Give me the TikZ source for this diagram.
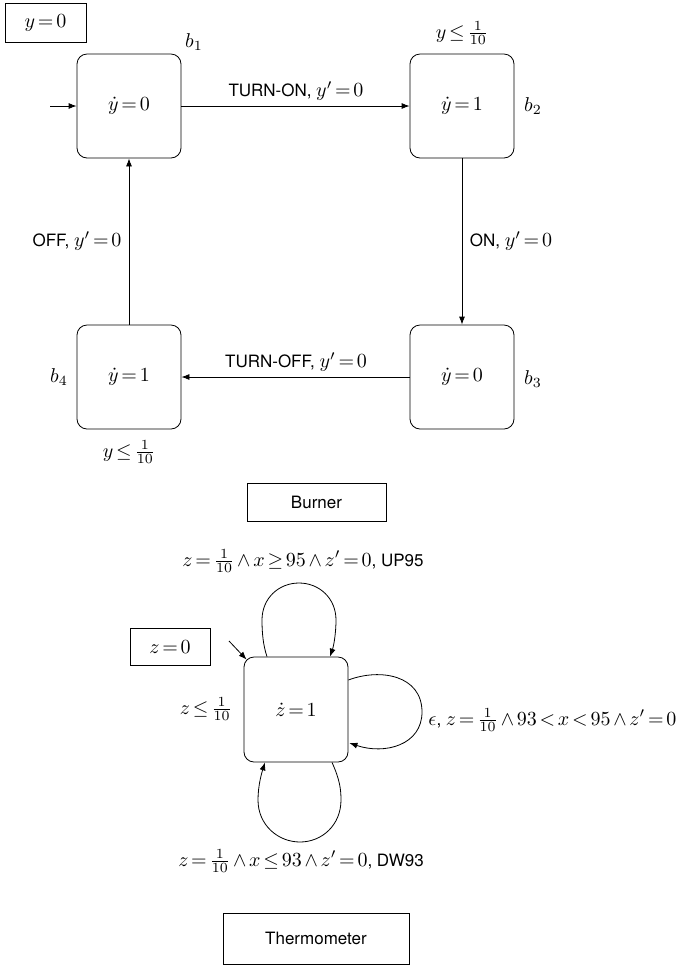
\documentclass[tikz,border=0pt]{standalone}
\usepackage{fontspec}
\setsansfont[Scale=0.85]{TeX Gyre Heros}
\usetikzlibrary{arrows.meta,calc}
\thickmuskip=2.5mu plus 1mu
\medmuskip=2.5mu plus 1mu
\begin{document}
\begin{tikzpicture}[x=0.5pt,y=-0.5pt,
  state/.style={draw,rounded corners=5pt,minimum width=52pt,minimum height=52pt,inner sep=0pt},
  plainbox/.style={draw,inner sep=0pt},
  arr/.style={-{Latex[length=4pt,width=3pt]}},
  lbl/.style={inner sep=0pt},
  font=\sffamily]
\useasboundingbox (0,0) rectangle (683,966);

% ---------- Burner ----------
\node[plainbox,minimum width=40.5pt,minimum height=19.5pt] (y0) at (45.5,22.5) {$y=0$};

\node[state] (b1) at (129,106) {$\dot y=0$};
\node[state] (b2) at (462,106) {$\dot y=1$};
\node[state] (b3) at (462,377) {$\dot y=0$};
\node[state] (b4) at (129,377) {$\dot y=1$};

\node[lbl] (lb1) at (194,42) {$b_1$};
\node[lbl] (lb2) at (533,106) {$b_2$};
\node[lbl] (lb3) at (533,379) {$b_3$};
\node[lbl] (lb4) at (59,377) {$b_4$};
\node[lbl] (inv2) at (462,33) {$y\leq\frac{1}{10}$};
\node[lbl] (inv4) at (129,452) {$y\leq\frac{1}{10}$};

\coordinate (init1) at (50,106);
\draw[arr] (init1) -- (b1.west);
\draw[arr] (b1.east) -- (b2.west);
\draw[arr] (b2.south) -- (b3.north);
\draw[arr] (b3.west) -- (b4.east);
\draw[arr] (b4.north) -- (b1.south);

\node[lbl] (e12) at (296,91) {TURN-ON, $y'=0$};
\node[lbl] (e23) at (511,241) {ON, $y'=0$};
\node[lbl] (e34) at (296,362) {TURN-OFF, $y'=0$};
\node[lbl] (e41) at (77,241) {OFF, $y'=0$};

\node[plainbox,minimum width=69.5pt,minimum height=19pt] (burner) at (316.5,502) {Burner};

% ---------- Thermometer ----------
\node[plainbox,minimum width=40pt,minimum height=18.5pt] (z0) at (170,647) {$z=0$};
\node[draw,rounded corners=5pt,minimum width=52pt,minimum height=52.5pt,inner sep=0pt] (t) at (296,709.5) {$\dot z=1$};
\node[lbl] (tinv) at (206,709) {$z\leq\frac{1}{10}$};

\coordinate (init2) at (229,641);
\draw[arr] (init2) -- ($(t.north west)+(3,3)$);

% top loop
\draw[arr] ($(t.north)+(-29,0)$) .. controls (263,645) and (262,632) .. (262,620)
  .. controls (262,598) and (279,583) .. (299,583)
  .. controls (319,583) and (336,598) .. (336,620)
  .. controls (336,632) and (334,645) .. ($(t.north)+(34,0)$);
% right loop
\draw[arr] ($(t.east)+(0,-29.5)$) .. controls (380,668) and (422,675) .. (422,712)
  .. controls (422,745) and (385,755) .. ($(t.east)+(1,33.5)$);
% bottom loop
\draw[arr] ($(t.south)+(36,0)$) .. controls (340,780) and (341,790) .. (341,800)
  .. controls (341,825) and (322,842) .. (300,842)
  .. controls (278,842) and (258,825) .. (258,800)
  .. controls (258,785) and (262,772) .. ($(t.south)+(-31,0)$);

\node[lbl] (up) at (303,561) {$z=\frac{1}{10}\wedge x\geq 95\wedge z'=0$, UP95};
\node[lbl,anchor=west] (eps) at (428,720) {$\epsilon$, $z=\frac{1}{10}\wedge 93<x<95\wedge z'=0$};
\node[lbl] (dw) at (301,861) {$z=\frac{1}{10}\wedge x\leq 93\wedge z'=0$, DW93};

\node[plainbox,minimum width=93pt,minimum height=25.5pt] (therm) at (316,938.5) {Thermometer};
\end{tikzpicture}
\end{document}
